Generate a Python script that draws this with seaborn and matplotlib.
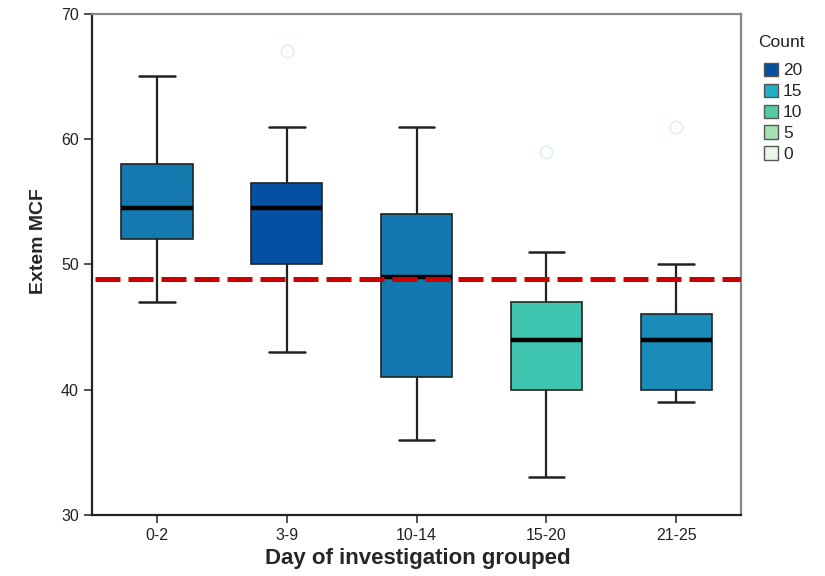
import matplotlib
matplotlib.use("Agg")
import matplotlib.pyplot as plt
from matplotlib.patches import Patch
import seaborn as sns
import pandas as pd

# ---- data ----
groups = ["0-2", "3-9", "10-14", "15-20", "21-25"]
whis_lo = [47, 43, 36, 33, 39]
q1 = [52, 50, 41, 40, 40]
median = [54.5, 54.5, 49, 44, 44]
q3 = [58, 56.5, 54, 47, 46]
whis_hi = [65, 61, 61, 51, 50]
outliers = [None, 67, None, 59, 61]
box_colors = ["#1479ae", "#0451a3", "#1278ae", "#3fc4b0", "#1a8cb8"]
reference_value = 48.8
legend_counts = ["20", "15", "10", "5", "0"]
legend_colors = ["#0451a3", "#22aec4", "#52cc9e", "#a3e2b0", "#eaf7e8"]

# long-format observations reproducing each box's five-number summary
rows = []
for g, lo, a, m, b, hi, out in zip(groups, whis_lo, q1, median, q3, whis_hi, outliers):
    vals = [lo, a, a, m, m, b, b, hi, out if out is not None else m]
    rows += [(g, v) for v in vals]
df = pd.DataFrame(rows, columns=["group", "value"])

sns.set_theme(style="white")
plt.rcParams["font.family"] = ["Liberation Sans Narrow", "Liberation Sans", "DejaVu Sans"]

fig = plt.figure(figsize=(8.25, 5.76), dpi=100)
ax = fig.add_axes([0.1115, 0.106, 0.787, 0.870])

sns.boxplot(
    data=df, x="group", y="value", hue="group", order=groups, hue_order=groups,
    palette=dict(zip(groups, box_colors)), saturation=1, width=0.55, legend=False,
    linewidth=1.2, linecolor="#222222", ax=ax,
    medianprops=dict(color="black", linewidth=3.2),
    whiskerprops=dict(color="#222222", linewidth=1.6),
    capprops=dict(color="#222222", linewidth=1.8),
    flierprops=dict(marker="o", markerfacecolor="none", markeredgecolor="#dcf3da",
                    markersize=9, markeredgewidth=1.0),
    capwidths=0.275,
)

ax.axhline(reference_value, color="#cc0000", linewidth=3.6, dashes=(5, 1.6),
           zorder=10, xmin=0.004, xmax=1)

ax.set_xlim(-0.5, 4.5)
ax.set_ylim(30, 70)
ax.set_yticks([30, 40, 50, 60, 70])
ax.set_xlabel("Day of investigation grouped", fontsize=16, fontweight="bold")
ax.set_ylabel("Extem MCF", fontsize=14, fontweight="bold")
ax.xaxis.set_label_coords(0.502, -0.066)
ax.yaxis.set_label_coords(-0.069, 0.547)
ax.tick_params(axis="both", which="major", direction="out", length=6, width=1.2,
               color="#333333", labelsize=11.5, labelcolor="#222222", left=True, bottom=True)

for side in ["left", "bottom"]:
    ax.spines[side].set_color("#222222")
    ax.spines[side].set_linewidth(1.6)
for side in ["top", "right"]:
    ax.spines[side].set_color("#888888")
    ax.spines[side].set_linewidth(1.6)

fig.text(0.919, 0.927, "Count", fontsize=12.5, color="#222222", ha="left", va="center")
handles = [Patch(facecolor=c, edgecolor="#555555", linewidth=1.0) for c in legend_colors]
fig.legend(handles, legend_counts, loc="upper left", bbox_to_anchor=(0.926, 0.891),
           frameon=False, fontsize=12.5, borderpad=0, borderaxespad=0,
           handlelength=0.8, handleheight=0.8, handletextpad=0.3, labelspacing=0.3)

fig.savefig("out.png", dpi=100)
